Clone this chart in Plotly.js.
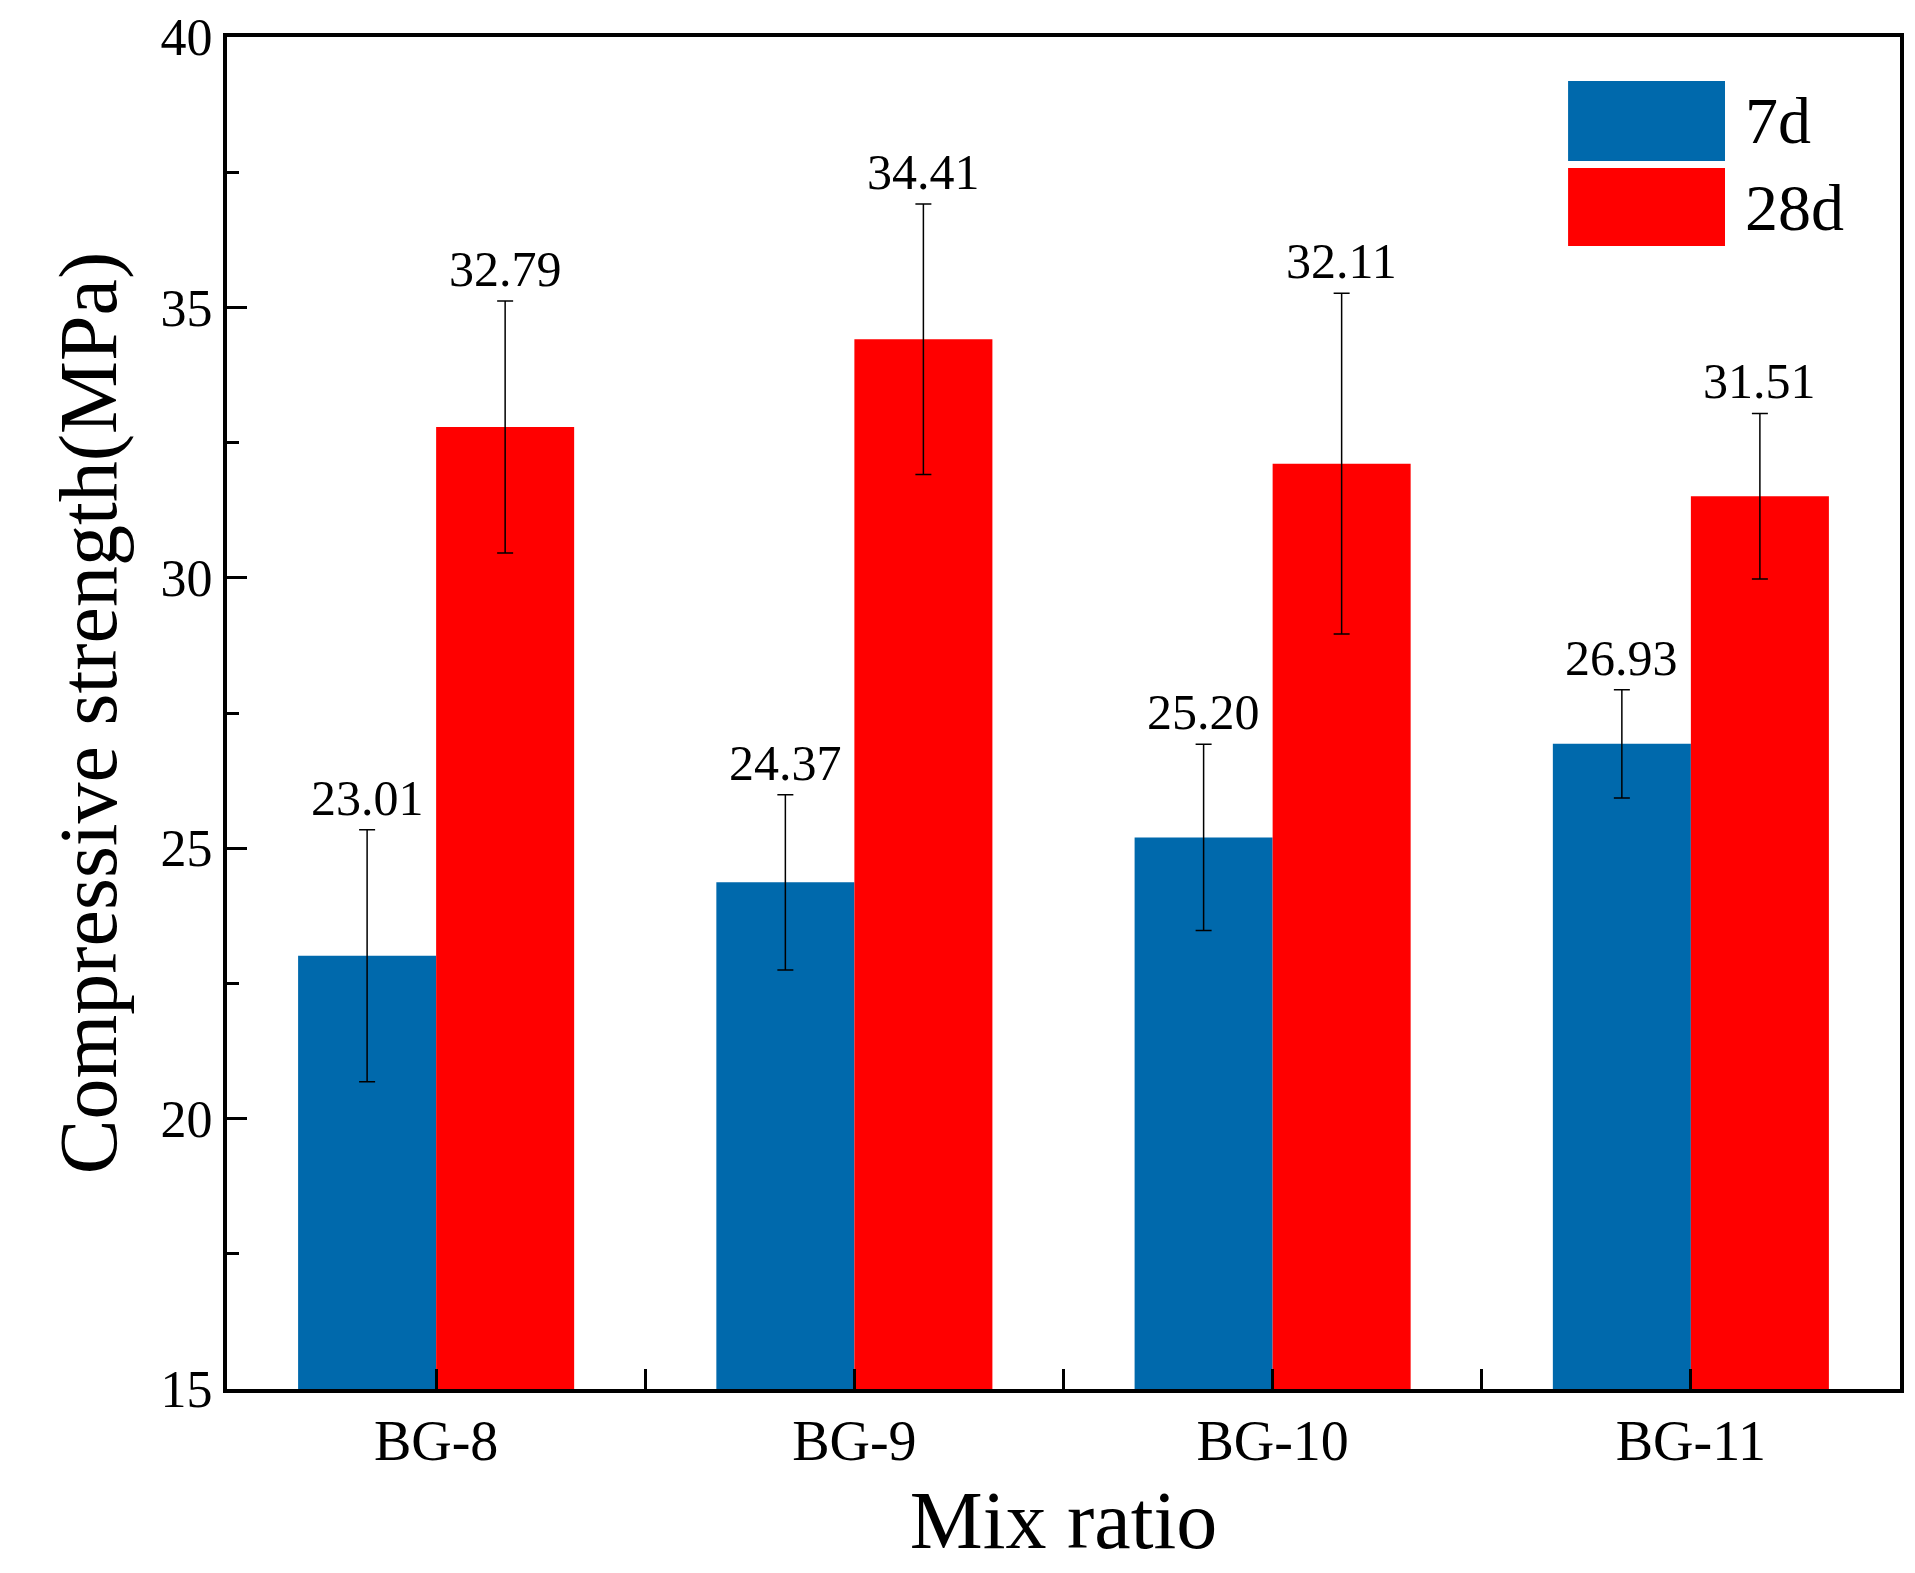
<!DOCTYPE html>
<html>
<head>
<meta charset="utf-8">
<script src="https://cdn.plot.ly/plotly-3.0.1.min.js"></script>
<style>body{margin:0;background:#fff}</style>
</head>
<body>
<div id="plot" style="width:1915px;height:1573px"></div>
<script>
// data
const mixes = ["BG-8", "BG-9", "BG-10", "BG-11"];
const d7 = [23.01, 24.37, 25.20, 26.93];
const d7err = [2.33, 1.62, 1.72, 1.0];
const d28 = [32.79, 34.41, 32.11, 31.51];
const d28err = [2.33, 2.5, 3.15, 1.53];

const font = "Liberation Serif, Times New Roman, serif";
const xs = mixes.map((m, i) => i);
const w = 0.33;

let bar = (vals, errs, color, off, name) => ({
    type: "bar", x: xs, y: vals, name: name,
    width: w, offset: off,
    marker: {color: color, line: {width: 0}},
    error_y: {type: "data", array: errs, visible: true, color: "#000", thickness: 1.5, width: 8}
});

const traces = [
    bar(d7, d7err, "#0069ac", -w, "7d"),
    bar(d28, d28err, "#ff0000", 0, "28d")
];

let labels = [];
d7.forEach((v, i) => labels.push({x: i - w / 2, y: v + d7err[i], text: v.toFixed(2)}));
d28.forEach((v, i) => labels.push({x: i + w / 2, y: v + d28err[i], text: v.toFixed(2)}));
let annotations = labels.map(l => ({
    x: l.x, y: l.y, text: l.text, showarrow: false, yanchor: "bottom", yshift: 2,
    font: {family: font, size: 50, color: "#000"}
}));

// legend drawn as boxes
const legend = [["7d", "#0069ac", 0.9675, 0.9083], ["28d", "#ff0000", 0.9031, 0.8454]];
let shapes = legend.map(l => ({
    type: "rect", xref: "paper", yref: "paper", x0: 0.8016, x1: 0.8954, y0: l[3], y1: l[2],
    fillcolor: l[1], line: {width: 0}
}));
legend.forEach(l => annotations.push({
    xref: "paper", yref: "paper", x: 0.906, y: (l[2] + l[3]) / 2, xanchor: "left", yanchor: "middle",
    text: l[0], showarrow: false, font: {family: font, size: 66, color: "#000"}
}));

Plotly.newPlot("plot", traces, {
    width: 1915, height: 1573,
    margin: {l: 227, r: 15, t: 37, b: 184},
    showlegend: false,
    paper_bgcolor: "#fff", plot_bgcolor: "#fff",
    font: {family: font, color: "#000"},
    xaxis: {
        range: [-0.5, 3.5], tickvals: xs, ticktext: mixes,
        ticks: "inside", ticklen: 20, tickwidth: 3, tickcolor: "#000",
        minor: {dtick: 0.5, tick0: 0.5, ticks: "inside", ticklen: 20, tickwidth: 3, tickcolor: "#000"},
        showgrid: false, zeroline: false,
        showline: true, linewidth: 4, linecolor: "#000", mirror: true,
        tickfont: {family: font, size: 56},
        title: {text: "Mix ratio", font: {family: font, size: 82}, standoff: 20}
    },
    yaxis: {
        range: [15, 40], dtick: 5,
        ticks: "inside", ticklen: 20, tickwidth: 3, tickcolor: "#000",
        minor: {dtick: 2.5, ticks: "inside", ticklen: 12, tickwidth: 3, tickcolor: "#000"},
        showgrid: false, zeroline: false,
        showline: true, linewidth: 4, linecolor: "#000", mirror: true,
        tickfont: {family: font, size: 52},
        title: {text: "Compressive strength(MPa)", font: {family: font, size: 82}, standoff: 18}
    },
    shapes: shapes,
    annotations: annotations
}, {staticPlot: true});
</script>
</body>
</html>
